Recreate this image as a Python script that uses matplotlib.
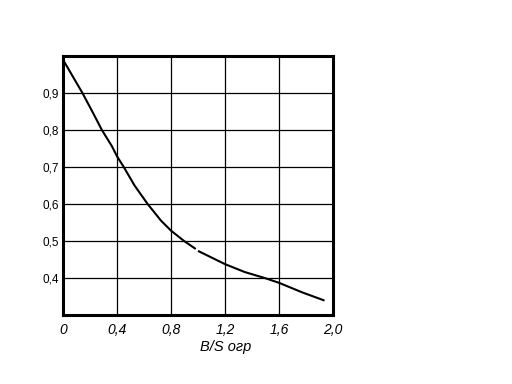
import matplotlib
matplotlib.use("Agg")
import matplotlib.pyplot as plt

x_seg1 = [0.0, 0.144, 0.217, 0.288, 0.361, 0.40, 0.45, 0.53, 0.627, 0.726, 0.80, 0.897, 0.977]
y_seg1 = [0.99, 0.90, 0.85, 0.80, 0.757, 0.729, 0.70, 0.65, 0.60, 0.555, 0.528, 0.50, 0.48]
x_seg2 = [1.007, 1.20, 1.347, 1.494, 1.60, 1.773, 1.93]
y_seg2 = [0.472, 0.4375, 0.416, 0.40, 0.387, 0.361, 0.340]

x_ticks = [0.0, 0.4, 0.8, 1.2, 1.6, 2.0]
x_labels = ["0", "0,4", "0,8", "1,2", "1,6", "2,0"]
y_ticks = [0.4, 0.5, 0.6, 0.7, 0.8, 0.9]
y_labels = ["0,4", "0,5", "0,6", "0,7", "0,8", "0,9"]
x_title = "B/S огр"

fig = plt.figure(figsize=(5.12, 3.84), dpi=100)
ax = fig.add_axes([63/512, 1-315/384, 270/512, 259/384])
ax.set_xlim(0, 2.0)
ax.set_ylim(0.3, 1.0)

for xv in x_ticks:
    ax.axvline(xv, color="black", lw=0.9, zorder=1)
for yv in y_ticks:
    ax.axhline(yv, color="black", lw=0.9, zorder=1)

ax.plot(x_seg1, y_seg1, color="black", lw=1.5, zorder=3, solid_joinstyle="round")
ax.plot(x_seg2, y_seg2, color="black", lw=1.5, zorder=3, solid_joinstyle="round")

ax.set_xticks(x_ticks)
ax.set_xticklabels(x_labels, fontstyle="italic", fontfamily="Liberation Sans", fontsize=10)
ax.set_yticks(y_ticks)
ax.set_yticklabels(y_labels, fontfamily="Liberation Sans", fontsize=8.5)
ax.tick_params(length=0, pad=6)
ax.tick_params(axis="y", pad=3)
ax.set_xlabel(x_title, fontstyle="italic", fontfamily="Liberation Sans", fontsize=10.5)
ax.xaxis.set_label_coords(0.604, -0.095)

for s in ax.spines.values():
    s.set_linewidth(2.2)
    s.set_color("black")

fig.savefig("out.png", dpi=100)
